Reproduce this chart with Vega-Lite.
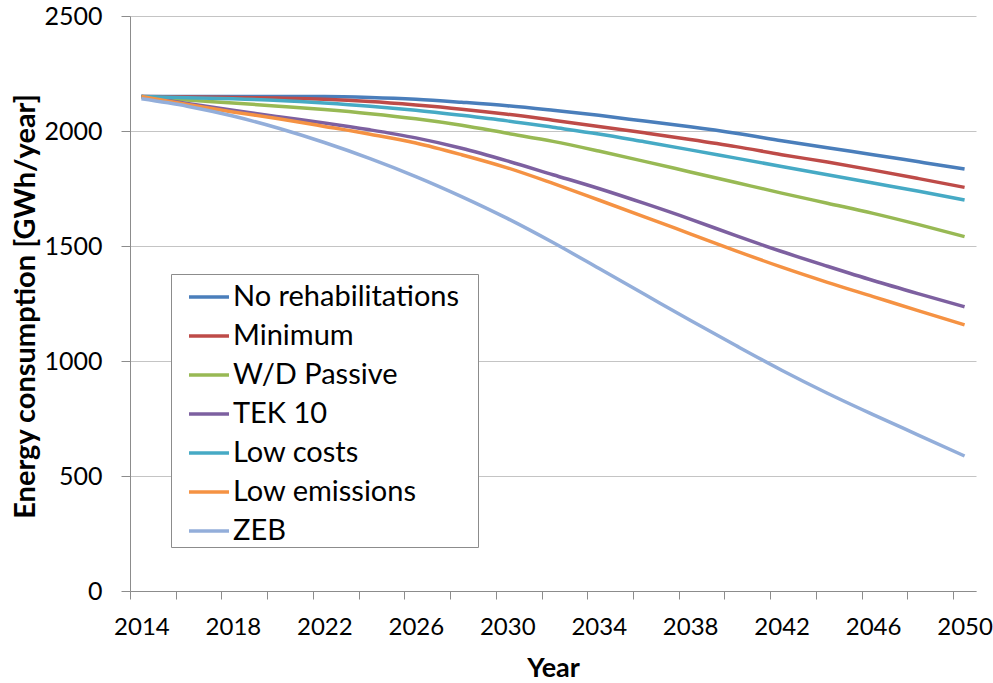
{
  "$schema": "https://vega.github.io/schema/vega-lite/v6.json",
  "width": 846,
  "height": 575,
  "autosize": {"type": "none"},
  "padding": {"left": 130, "top": 16, "right": 17, "bottom": 92},
  "background": "white",
  "config": {"view": {"stroke": null}, "font": "Lato"},
  "data": {"values": [
    {"s":"No rehabilitations","year":2014,"v":2150},{"s":"No rehabilitations","year":2016,"v":2150},{"s":"No rehabilitations","year":2018,"v":2150},{"s":"No rehabilitations","year":2020,"v":2150},{"s":"No rehabilitations","year":2022,"v":2150},{"s":"No rehabilitations","year":2024,"v":2146},{"s":"No rehabilitations","year":2026,"v":2138},{"s":"No rehabilitations","year":2028,"v":2125},{"s":"No rehabilitations","year":2030,"v":2110},{"s":"No rehabilitations","year":2032,"v":2090},{"s":"No rehabilitations","year":2034,"v":2068},{"s":"No rehabilitations","year":2036,"v":2043},{"s":"No rehabilitations","year":2038,"v":2018},{"s":"No rehabilitations","year":2040,"v":1990},{"s":"No rehabilitations","year":2042,"v":1958},{"s":"No rehabilitations","year":2044,"v":1927},{"s":"No rehabilitations","year":2046,"v":1897},{"s":"No rehabilitations","year":2048,"v":1866},{"s":"No rehabilitations","year":2050,"v":1835},
    {"s":"Minimum","year":2014,"v":2150},{"s":"Minimum","year":2016,"v":2148},{"s":"Minimum","year":2018,"v":2146},{"s":"Minimum","year":2020,"v":2143},{"s":"Minimum","year":2022,"v":2138},{"s":"Minimum","year":2024,"v":2128},{"s":"Minimum","year":2026,"v":2113},{"s":"Minimum","year":2028,"v":2095},{"s":"Minimum","year":2030,"v":2073},{"s":"Minimum","year":2032,"v":2047},{"s":"Minimum","year":2034,"v":2020},{"s":"Minimum","year":2036,"v":1992},{"s":"Minimum","year":2038,"v":1963},{"s":"Minimum","year":2040,"v":1932},{"s":"Minimum","year":2042,"v":1897},{"s":"Minimum","year":2044,"v":1865},{"s":"Minimum","year":2046,"v":1830},{"s":"Minimum","year":2048,"v":1793},{"s":"Minimum","year":2050,"v":1755},
    {"s":"W/D Passive","year":2014,"v":2150},{"s":"W/D Passive","year":2016,"v":2135},{"s":"W/D Passive","year":2018,"v":2122},{"s":"W/D Passive","year":2020,"v":2108},{"s":"W/D Passive","year":2022,"v":2093},{"s":"W/D Passive","year":2024,"v":2075},{"s":"W/D Passive","year":2026,"v":2053},{"s":"W/D Passive","year":2028,"v":2025},{"s":"W/D Passive","year":2030,"v":1990},{"s":"W/D Passive","year":2032,"v":1955},{"s":"W/D Passive","year":2034,"v":1913},{"s":"W/D Passive","year":2036,"v":1868},{"s":"W/D Passive","year":2038,"v":1822},{"s":"W/D Passive","year":2040,"v":1776},{"s":"W/D Passive","year":2042,"v":1730},{"s":"W/D Passive","year":2044,"v":1686},{"s":"W/D Passive","year":2046,"v":1642},{"s":"W/D Passive","year":2048,"v":1593},{"s":"W/D Passive","year":2050,"v":1541},
    {"s":"TEK 10","year":2014,"v":2150},{"s":"TEK 10","year":2016,"v":2120},{"s":"TEK 10","year":2018,"v":2090},{"s":"TEK 10","year":2020,"v":2062},{"s":"TEK 10","year":2022,"v":2035},{"s":"TEK 10","year":2024,"v":2005},{"s":"TEK 10","year":2026,"v":1970},{"s":"TEK 10","year":2028,"v":1925},{"s":"TEK 10","year":2030,"v":1870},{"s":"TEK 10","year":2032,"v":1810},{"s":"TEK 10","year":2034,"v":1750},{"s":"TEK 10","year":2036,"v":1685},{"s":"TEK 10","year":2038,"v":1617},{"s":"TEK 10","year":2040,"v":1545},{"s":"TEK 10","year":2042,"v":1476},{"s":"TEK 10","year":2044,"v":1412},{"s":"TEK 10","year":2046,"v":1350},{"s":"TEK 10","year":2048,"v":1292},{"s":"TEK 10","year":2050,"v":1236},
    {"s":"Low costs","year":2014,"v":2150},{"s":"Low costs","year":2016,"v":2145},{"s":"Low costs","year":2018,"v":2140},{"s":"Low costs","year":2020,"v":2133},{"s":"Low costs","year":2022,"v":2122},{"s":"Low costs","year":2024,"v":2108},{"s":"Low costs","year":2026,"v":2090},{"s":"Low costs","year":2028,"v":2068},{"s":"Low costs","year":2030,"v":2044},{"s":"Low costs","year":2032,"v":2016},{"s":"Low costs","year":2034,"v":1987},{"s":"Low costs","year":2036,"v":1953},{"s":"Low costs","year":2038,"v":1918},{"s":"Low costs","year":2040,"v":1882},{"s":"Low costs","year":2042,"v":1846},{"s":"Low costs","year":2044,"v":1810},{"s":"Low costs","year":2046,"v":1774},{"s":"Low costs","year":2048,"v":1738},{"s":"Low costs","year":2050,"v":1700},
    {"s":"Low emissions","year":2014,"v":2150},{"s":"Low emissions","year":2016,"v":2115},{"s":"Low emissions","year":2018,"v":2083},{"s":"Low emissions","year":2020,"v":2053},{"s":"Low emissions","year":2022,"v":2020},{"s":"Low emissions","year":2024,"v":1986},{"s":"Low emissions","year":2026,"v":1948},{"s":"Low emissions","year":2028,"v":1897},{"s":"Low emissions","year":2030,"v":1840},{"s":"Low emissions","year":2032,"v":1772},{"s":"Low emissions","year":2034,"v":1700},{"s":"Low emissions","year":2036,"v":1627},{"s":"Low emissions","year":2038,"v":1553},{"s":"Low emissions","year":2040,"v":1479},{"s":"Low emissions","year":2042,"v":1408},{"s":"Low emissions","year":2044,"v":1342},{"s":"Low emissions","year":2046,"v":1280},{"s":"Low emissions","year":2048,"v":1218},{"s":"Low emissions","year":2050,"v":1157},
    {"s":"ZEB","year":2014,"v":2140},{"s":"ZEB","year":2016,"v":2108},{"s":"ZEB","year":2018,"v":2065},{"s":"ZEB","year":2020,"v":2012},{"s":"ZEB","year":2022,"v":1950},{"s":"ZEB","year":2024,"v":1880},{"s":"ZEB","year":2026,"v":1802},{"s":"ZEB","year":2028,"v":1715},{"s":"ZEB","year":2030,"v":1620},{"s":"ZEB","year":2032,"v":1515},{"s":"ZEB","year":2034,"v":1403},{"s":"ZEB","year":2036,"v":1290},{"s":"ZEB","year":2038,"v":1177},{"s":"ZEB","year":2040,"v":1067},{"s":"ZEB","year":2042,"v":960},{"s":"ZEB","year":2044,"v":860},{"s":"ZEB","year":2046,"v":767},{"s":"ZEB","year":2048,"v":677},{"s":"ZEB","year":2050,"v":587}
  ]},
  "mark": {"type": "line", "interpolate": "monotone", "strokeWidth": 3.5},
  "encoding": {
    "x": {
      "field": "year", "type": "quantitative",
      "scale": {"domain": [2013.5, 2050.5], "nice": false, "zero": false},
      "axis": {
        "title": "Year",
        "values": [2013.5, 2014, 2015.5, 2017.5, 2018, 2019.5, 2021.5, 2022, 2023.5, 2025.5, 2026, 2027.5, 2029.5, 2030, 2031.5, 2033.5, 2034, 2035.5, 2037.5, 2038, 2039.5, 2041.5, 2042, 2043.5, 2045.5, 2046, 2047.5, 2049.5, 2050],
        "labelExpr": "datum.value % 1 == 0 ? '' + datum.value : ''",
        "tickOpacity": {"condition": {"test": "datum.value % 1 != 0", "value": 1}, "value": 0},
        "labelOverlap": false,
        "labelFlush": false,
        "labelBound": false,
        "grid": false,
        "domainColor": "#8C8C8C",
        "tickColor": "#8C8C8C",
        "tickSize": 8,
        "labelPadding": 16,
        "labelFontSize": 24,
        "labelColor": "#000000",
        "titleFontSize": 27,
        "titleFontWeight": "bold",
        "titleColor": "#000000",
        "titleY": 77,
        "titleBaseline": "middle"
      }
    },
    "y": {
      "field": "v", "type": "quantitative",
      "scale": {"domain": [0, 2500], "nice": false},
      "axis": {
        "title": "Energy consumption [GWh/year]",
        "values": [0, 500, 1000, 1500, 2000, 2500],
        "format": "d",
        "grid": true,
        "gridColor": "#C4C4C4",
        "domainColor": "#8C8C8C",
        "tickColor": "#8C8C8C",
        "tickSize": 9,
        "labelPadding": 19,
        "labelFontSize": 25,
        "labelColor": "#000000",
        "titleFontSize": 29,
        "titleFontWeight": "bold",
        "titleColor": "#000000",
        "titleX": -105,
        "titleY": 290,
        "titleAngle": -90,
        "titleAlign": "center",
        "titleBaseline": "middle"
      }
    },
    "color": {
      "field": "s", "type": "nominal",
      "scale": {
        "domain": ["No rehabilitations", "Minimum", "W/D Passive", "TEK 10", "Low costs", "Low emissions", "ZEB"],
        "range": ["#4A7EBB", "#BE4B48", "#98B954", "#7D60A0", "#46AAC5", "#F59243", "#93AEDA"]
      },
      "legend": {
        "title": "\u00a0",
        "titleOrient": "right",
        "titlePadding": 18,
        "titleFontSize": 4,
        "orient": "none",
        "legendX": 41,
        "legendY": 258,
        "symbolType": "stroke",
        "symbolSize": 1600,
        "symbolStrokeWidth": 3.5,
        "symbolOffset": 15,
        "labelFontSize": 29,
        "labelColor": "#000000",
        "labelOffset": 2,
        "labelLimit": 400,
        "rowPadding": 2,
        "padding": 1,
        "strokeColor": "#8C8C8C",
        "fillColor": "#FFFFFF"
      }
    }
  }
}
